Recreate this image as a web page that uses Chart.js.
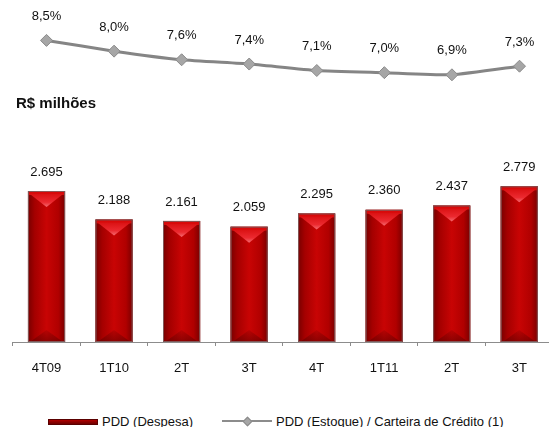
<!DOCTYPE html>
<html>
<head>
<meta charset="utf-8">
<script src="https://cdn.jsdelivr.net/npm/chart.js@4/dist/chart.umd.min.js"></script>
<style>
  html, body { margin: 0; padding: 0; background: #fff; overflow: hidden; }
  body { width: 549px; height: 427px; position: relative; font-family: "Liberation Sans", Arial, sans-serif; }
  #lineWrap { position: absolute; left: 0; top: -1px; width: 549px; height: 100px; }
  #barWrap { position: absolute; left: 0; top: 130px; width: 553px; height: 260px; }
  #title { position: absolute; left: 16px; top: 94px; font-size: 15px; font-weight: bold; color: #111; }
  #legend { position: absolute; left: 0; top: 413px; width: 549px; height: 16px; font-size: 13px; color: #111; }
  .sw-bar { position: absolute; left: 48px; top: 6px; width: 48px; height: 4px; background: linear-gradient(#b00000, #6e0000); border: 1px solid #5a0000; }
  .lab1 { position: absolute; left: 102px; top: 1px; }
  .sw-line { position: absolute; left: 222px; top: 7px; width: 50px; height: 2px; background: #8c8c8c; }
  .sw-dia { position: absolute; left: 244px; top: 5px; width: 5px; height: 5px; background: #a6a6a6; border: 1px solid #8a8a8a; transform: rotate(45deg); }
  .lab2 { position: absolute; left: 276px; top: 1px; }
</style>
</head>
<body>
<div id="lineWrap"><canvas id="lineChart" width="549" height="100"></canvas></div>
<div id="title">R$ milhões</div>
<div id="barWrap"><canvas id="barChart" width="553" height="260"></canvas></div>
<div id="legend">
  <div class="sw-bar"></div><span class="lab1">PDD (Despesa)</span>
  <div class="sw-line"></div><div class="sw-dia"></div><span class="lab2">PDD (Estoque) / Carteira de Crédito (1)</span>
</div>
<script>
// Quarterly periods
const categories = ['4T09', '1T10', '2T', '3T', '4T', '1T11', '2T', '3T'];
// PDD (Despesa), R$ milhões
const despesa = [2695, 2188, 2161, 2059, 2295, 2360, 2437, 2779];
// PDD (Estoque) / Carteira de Crédito, %
const estoque = [8.5, 8.0, 7.6, 7.4, 7.1, 7.0, 6.9, 7.3];

const FONT = '"Liberation Sans", Arial, sans-serif';

function fmtThousands(v) {
  return String(v).replace(/\B(?=(\d{3})+(?!\d))/g, '.');
}
function fmtPct(v) {
  return v.toFixed(1).replace('.', ',') + '%';
}

// Value labels above the line points
const lineLabels = {
  id: 'lineLabels',
  afterDatasetsDraw(chart) {
    const ctx = chart.ctx;
    const meta = chart.getDatasetMeta(0);
    ctx.save();
    ctx.font = '13px ' + FONT;
    ctx.fillStyle = '#111';
    ctx.textAlign = 'center';
    ctx.textBaseline = 'middle';
    meta.data.forEach((pt, i) => {
      ctx.fillText(fmtPct(estoque[i]), pt.x, pt.y - 24);
    });
    ctx.restore();
  }
};

new Chart(document.getElementById('lineChart'), {
  type: 'line',
  data: {
    labels: categories,
    datasets: [{
      data: estoque,
      borderColor: '#858585',
      borderWidth: 3,
      tension: 0.15,
      pointStyle: 'rectRot',
      pointRadius: 6,
      pointBackgroundColor: '#a6a6a6',
      pointBorderColor: '#8a8a8a',
      pointBorderWidth: 1
    }]
  },
  options: {
    responsive: false,
    animation: false,
    layout: { padding: { left: 46.5, right: 29.5, top: 0, bottom: 0 } },
    plugins: { legend: { display: false }, tooltip: { enabled: false } },
    scales: {
      x: { display: false, offset: false },
      y: { display: false, min: 6.1, max: 10.1 }
    }
  },
  plugins: [lineLabels]
});

// Bevelled shading over each bar, plus value labels
const barDecor = {
  id: 'barDecor',
  afterDatasetsDraw(chart) {
    const ctx = chart.ctx;
    const meta = chart.getDatasetMeta(0);
    ctx.save();
    meta.data.forEach((bar, i) => {
      const p = bar.getProps(['x', 'y', 'base', 'width'], true);
      const l = p.x - p.width / 2, r = p.x + p.width / 2;
      const t = p.y, b = p.base;

      const g = ctx.createLinearGradient(l, 0, r, 0);
      g.addColorStop(0, '#780000');
      g.addColorStop(0.18, '#a40000');
      g.addColorStop(0.5, '#c80404');
      g.addColorStop(0.82, '#b00000');
      g.addColorStop(1, '#7a0000');
      ctx.fillStyle = g;
      ctx.fillRect(l, t, r - l, b - t);

      // bright top band
      ctx.fillStyle = '#d80a0a';
      ctx.fillRect(l + 1, t + 1, r - l - 2, 3);

      // top chevron highlight
      const tg = ctx.createLinearGradient(0, t, 0, t + 16);
      tg.addColorStop(0, '#d40808');
      tg.addColorStop(0.7, '#ec2a30');
      tg.addColorStop(1, '#f46a70');
      ctx.fillStyle = tg;
      ctx.beginPath();
      ctx.moveTo(l + 2, t + 3);
      ctx.lineTo(r - 2, t + 3);
      ctx.lineTo(p.x, t + 16);
      ctx.closePath();
      ctx.fill();

      // darker chevron at the foot
      const bg = ctx.createLinearGradient(0, b - 12, 0, b);
      bg.addColorStop(0, 'rgba(90,0,0,0.15)');
      bg.addColorStop(1, 'rgba(90,0,0,0.55)');
      ctx.fillStyle = bg;
      ctx.beginPath();
      ctx.moveTo(l + 2, b);
      ctx.lineTo(r - 2, b);
      ctx.lineTo(p.x, b - 12);
      ctx.closePath();
      ctx.fill();

      ctx.strokeStyle = 'rgba(130,110,110,0.8)';
      ctx.lineWidth = 1;
      ctx.strokeRect(l + 0.5, t + 0.5, r - l - 1, b - t - 1);

      ctx.font = '13px ' + FONT;
      ctx.fillStyle = '#111';
      ctx.textAlign = 'center';
      ctx.textBaseline = 'middle';
      ctx.fillText(fmtThousands(despesa[i]), p.x, t - 19);
    });
    ctx.restore();
  }
};

new Chart(document.getElementById('barChart'), {
  type: 'bar',
  data: {
    labels: categories,
    datasets: [{
      data: despesa,
      backgroundColor: '#b00000',
      borderWidth: 0,
      barPercentage: 0.55,
      categoryPercentage: 1.0
    }]
  },
  options: {
    responsive: false,
    animation: false,
    layout: { padding: { left: 12.75, right: 0, top: 0, bottom: 8 } },
    plugins: { legend: { display: false }, tooltip: { enabled: false } },
    scales: {
      x: {
        afterFit(scale) { scale.height = 40; },
        border: { display: true, color: '#8c8c8c', width: 1 },
        grid: { display: true, drawOnChartArea: false, drawTicks: true, tickLength: 4, color: '#8c8c8c', offset: true },
        ticks: { font: { family: FONT, size: 13 }, color: '#111', padding: 15, maxRotation: 0 }
      },
      y: { display: false, min: 0, max: 3784 }
    }
  },
  plugins: [barDecor]
});
</script>
</body>
</html>
